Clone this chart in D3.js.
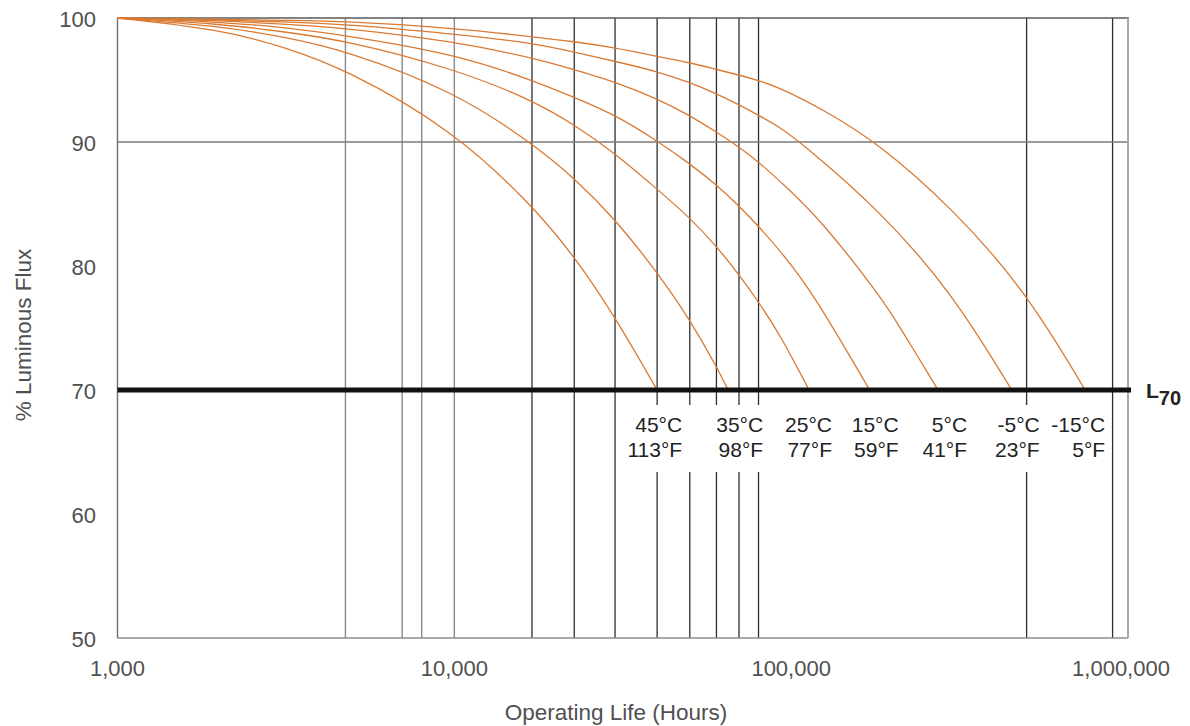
<!DOCTYPE html>
<html>
<head>
<meta charset="utf-8">
<script src="https://cdn.jsdelivr.net/npm/d3@7"></script>
<style>
  html, body { margin: 0; padding: 0; background: #ffffff; }
  svg { display: block; }
  text { font-family: "Liberation Sans", Arial, Helvetica, sans-serif; }
</style>
</head>
<body>
<svg id="chart" width="1190" height="726"></svg>
<script>
// ---------------- DATA ----------------
const xTickValues = [1000, 10000, 100000, 1000000];
const xTickLabels = ["1,000", "10,000", "100,000", "1,000,000"];
const yTickValues = [50, 60, 70, 80, 90, 100];

// vertical reference lines (hours)
const gridHours = [4750, 7000, 8000, 10000, 17000, 22700, 30000, 40000, 50000, 60000, 70000, 80000, 500000, 900000];
// lines that are interrupted behind the temperature labels
const gappedHours = [40000, 50000, 60000, 70000, 80000, 500000];

const tempC = ["45°C", "35°C", "25°C", "15°C", "5°C", "-5°C", "-15°C"];
const tempF = ["113°F", "98°F", "77°F", "59°F", "41°F", "23°F", "5°F"];

const hours45 = [1000, 2000, 3100, 4750, 10000, 17000, 22700, 30000, 40000];
const flux45  = [100, 99.1, 97.7, 95.9, 90.9, 84.9, 80.8, 75.9, 70];

const hours35 = [1000, 2000, 3100, 4750, 10000, 17000, 22700, 30000, 40000, 50000, 60000, 65000];
const flux35  = [100, 99.35, 98.5, 97.4, 94.1, 89.9, 87.1, 83.8, 79.5, 75.7, 71.9, 70];

const hours25 = [1000, 2000, 3100, 4750, 10000, 17000, 22700, 30000, 40000, 50000, 60000, 70000, 80000, 93000, 113000];
const flux25  = [100, 99.55, 98.9, 98.2, 95.9, 93.4, 91.4, 89.1, 86.2, 83.9, 81.6, 79.3, 77.1, 74.4, 70];

const hours15 = [1000, 2000, 3100, 4750, 10000, 17000, 22700, 30000, 40000, 50000, 60000, 70000, 80000, 93000, 115700, 171000];
const flux15  = [100, 99.7, 99.25, 98.6, 97.1, 95.0, 93.6, 92.2, 90.1, 88.25, 86.55, 84.85, 83.2, 81.2, 77.9, 70];

const hours5 = [1000, 2000, 3100, 4750, 10000, 17000, 22700, 30000, 40000, 50000, 60000, 70000, 80000, 93000, 121800, 183600, 205800, 273000];
const flux5  = [100, 99.8, 99.5, 99.2, 98.1, 96.8, 95.85, 94.85, 93.5, 92.15, 90.8, 89.6, 88.4, 86.8, 83.8, 77.6, 75.5, 70];

const hoursM5 = [1000, 2000, 3100, 4750, 10000, 17000, 22700, 30000, 40000, 50000, 60000, 70000, 80000, 93000, 106300, 181500, 300000, 451600];
const fluxM5  = [100, 99.85, 99.7, 99.5, 98.7, 98.0, 97.25, 96.5, 95.7, 94.8, 93.9, 93.0, 92.15, 91.16, 90, 84.6, 77.9, 70];

const hoursM15 = [1000, 2000, 3100, 4750, 10000, 17000, 22700, 30000, 40000, 50000, 60000, 70000, 80000, 93000, 124600, 179500, 303000, 500000, 746000];
const fluxM15  = [100, 99.9, 99.8, 99.75, 99.18, 98.5, 98.1, 97.6, 96.9, 96.4, 95.85, 95.4, 94.97, 94.35, 92.6, 90, 84.6, 77.9, 70];

const seriesHours = [hours45, hours35, hours25, hours15, hours5, hoursM5, hoursM15];
const seriesFlux  = [flux45, flux35, flux25, flux15, flux5, fluxM5, fluxM15];

const l70Value = 70;

// ---------------- LAYOUT ----------------
const svg = d3.select("#chart");
const plot = { left: 117.5, right: 1128, top: 18, bottom: 638 };
const x = d3.scaleLog().domain([1000, 1000000]).range([plot.left, plot.right]);
const y = d3.scaleLinear().domain([50, 100]).range([plot.bottom, plot.top]);

const gapTop = 405, gapBottom = 472;
const labelShift = [-2, 8, -4, 2, 2, 1, -7];

// vertical grid lines
const g = svg.append("g");
gridHours.forEach(h => {
  const xx = x(h);
  const dark = h > 12000;
  const col = dark ? "#2e2e2e" : "#8a8a8a";
  const w = dark ? 1.3 : 1.4;
  if (gappedHours.includes(h)) {
    g.append("line").attr("x1", xx).attr("x2", xx).attr("y1", y(100)).attr("y2", gapTop)
      .attr("stroke", col).attr("stroke-width", w);
    g.append("line").attr("x1", xx).attr("x2", xx).attr("y1", gapBottom).attr("y2", y(50))
      .attr("stroke", col).attr("stroke-width", w);
  } else {
    g.append("line").attr("x1", xx).attr("x2", xx).attr("y1", y(100)).attr("y2", y(50))
      .attr("stroke", col).attr("stroke-width", w);
  }
});

// horizontal 90 line
g.append("line").attr("x1", x(1000)).attr("x2", x(1000000)).attr("y1", y(90)).attr("y2", y(90))
  .attr("stroke", "#7a7a7a").attr("stroke-width", 1.4);

// frame
g.append("line").attr("x1", x(1000)).attr("x2", x(1000000) + 1).attr("y1", y(100)).attr("y2", y(100))
  .attr("stroke", "#5a5a5a").attr("stroke-width", 1.4);
g.append("line").attr("x1", x(1000)).attr("x2", x(1000000)).attr("y1", y(50)).attr("y2", y(50))
  .attr("stroke", "#8e8e8e").attr("stroke-width", 1.4);
g.append("line").attr("x1", x(1000)).attr("x2", x(1000)).attr("y1", y(100)).attr("y2", y(50))
  .attr("stroke", "#6e6e6e").attr("stroke-width", 1.4);
g.append("line").attr("x1", x(1000000)).attr("x2", x(1000000)).attr("y1", y(100)).attr("y2", y(50))
  .attr("stroke", "#a8a8a8").attr("stroke-width", 2);

// curves
const line = d3.line()
  .x(d => x(d[0]))
  .y(d => y(d[1]))
  .curve(d3.curveBasis);

seriesHours.forEach((hs, i) => {
  const pts = hs.map((h, j) => [h, seriesFlux[i][j]]);
  svg.append("path").attr("d", line(pts))
    .attr("fill", "none").attr("stroke", "#d97a33").attr("stroke-width", 1.3);
});

// L70 line
svg.append("line").attr("x1", x(1000)).attr("x2", x(1000000) + 3)
  .attr("y1", y(l70Value)).attr("y2", y(l70Value))
  .attr("stroke", "#111").attr("stroke-width", 5);

const l70 = svg.append("text").attr("x", x(1000000) + 18).attr("y", y(l70Value) + 8)
  .attr("fill", "#222").attr("font-size", 21).attr("font-weight", "bold");
l70.append("tspan").text("L");
l70.append("tspan").attr("dy", 7).attr("font-size", 20).text("70");

// temperature labels
seriesHours.forEach((hs, i) => {
  const xe = x(hs[hs.length - 1]) + 27 + labelShift[i];
  svg.append("text").attr("x", xe).attr("y", 432).attr("text-anchor", "end")
    .attr("font-size", 21).attr("fill", "#222").text(tempC[i]);
  svg.append("text").attr("x", xe).attr("y", 457).attr("text-anchor", "end")
    .attr("font-size", 21).attr("fill", "#222").text(tempF[i]);
});

// y tick labels
yTickValues.forEach(v => {
  svg.append("text").attr("x", 96).attr("y", y(v) + 9).attr("text-anchor", "end")
    .attr("font-size", 22).attr("fill", "#505050").text(v);
});

// x tick labels
xTickValues.forEach((v, i) => {
  svg.append("text").attr("x", x(v) - (i === 3 ? 7 : 0)).attr("y", 676).attr("text-anchor", "middle")
    .attr("font-size", 22).attr("fill", "#505050").text(xTickLabels[i]);
});

// axis titles
svg.append("text").attr("x", 616).attr("y", 720).attr("text-anchor", "middle")
  .attr("font-size", 22.5).attr("fill", "#505050").text("Operating Life (Hours)");
svg.append("text").attr("transform", "translate(31,335) rotate(-90)").attr("text-anchor", "middle")
  .attr("font-size", 22.5).attr("fill", "#505050").text("% Luminous Flux");
</script>
</body>
</html>
